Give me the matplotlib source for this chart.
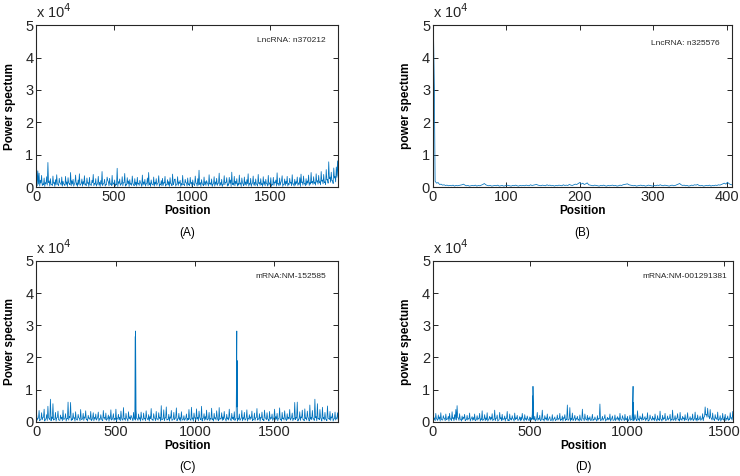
import numpy as np
import matplotlib
matplotlib.use("Agg")
import matplotlib.pyplot as plt

plt.rcParams['font.family'] = ['Liberation Sans', 'DejaVu Sans']

# power spectrum values, in units of 1e3
# each noisy panel is kept as peaks (hi) and troughs (lo) which alternate along x

# (A) LncRNA n370212, sequence length ~1936
len_a = 1936
hi_a = [6.2, 5.0, 4.3, 2.1, 3.6, 1.0, 2.8, 1.4, 3.2, 7.6, 1.9, 2.6, 0.8, 3.4, 1.5, 2.3, 3.8, 0.9, 2.7, 1.2,
        3.1, 1.8, 0.7, 3.3, 1.6, 2.9, 1.1, 4.5, 2.0, 2.4, 0.9, 3.7, 1.3, 2.2, 4.1, 0.8, 2.5, 1.7, 3.5, 1.0,
        2.8, 1.4, 3.0, 0.7, 2.1, 3.9, 1.2, 2.6, 0.9, 3.3, 1.5, 2.0, 4.8, 1.1, 2.4, 0.8, 3.1, 1.6, 2.7, 1.0,
        3.6, 1.3, 2.2, 0.9, 5.8, 1.7, 2.5, 1.0, 3.2, 1.4, 4.2, 0.8, 2.9, 1.9, 2.3, 1.1, 3.4, 0.7, 2.6, 1.5,
        3.0, 1.2, 2.1, 0.9, 3.7, 1.6, 2.4, 1.0, 2.8, 4.5, 1.3, 2.2, 0.8, 3.1, 1.5, 2.6, 1.1, 3.5, 0.9, 2.0,
        2.7, 1.4, 3.3, 0.8, 2.3, 1.7, 2.9, 1.0, 4.0, 1.2, 2.5, 0.9, 3.2, 1.6, 2.1, 1.1, 3.6, 0.8, 2.4, 1.3,
        2.8, 1.0, 3.0, 1.5, 2.2, 0.9, 3.4, 1.2, 2.6, 5.2, 1.4, 2.3, 0.8, 3.1, 1.7, 2.0, 1.0, 3.8, 1.3, 2.5,
        0.9, 3.2, 1.6, 2.7, 1.1, 4.3, 1.4, 2.4, 0.8, 3.5, 1.5, 2.9, 1.0, 3.0, 2.2, 4.6, 1.2, 3.3, 1.8, 2.6,
        1.1, 3.7, 1.3, 2.8, 0.9, 3.1, 1.6, 2.3, 4.1, 1.2, 2.7, 1.0, 3.4, 1.5, 2.5, 0.9, 3.9, 1.4, 2.6, 1.1,
        3.2, 1.7, 2.4, 1.0, 3.6, 1.3, 2.9, 0.8, 3.0, 1.6, 2.2, 4.4, 1.1, 2.8, 1.4, 3.5, 0.9, 2.5, 1.8, 3.3,
        1.2, 2.7, 1.5, 3.8, 1.0, 2.4, 1.7, 3.1, 1.3, 2.9, 4.0, 1.6, 3.4, 1.1, 2.6, 1.9, 3.7, 1.4, 4.5, 1.8,
        3.2, 1.5, 4.1, 2.0, 3.6, 1.7, 4.8, 2.2, 3.9, 1.6, 5.4, 2.4, 7.8, 3.1, 4.6, 2.0, 5.9, 3.3, 6.2, 8.1]
lo_a = [0.4, 0.9, 0.3, 1.2, 0.5, 0.7, 0.2, 1.0, 0.6, 1.4, 0.3, 0.8, 0.5, 1.1, 0.2, 0.7, 0.9, 0.4, 1.3, 0.6,
        0.3, 1.0, 0.5, 0.8, 0.2, 1.2, 0.7, 0.4, 0.9, 0.3, 1.5, 0.6, 0.2, 0.8, 0.5, 1.1, 0.3, 0.9, 0.6, 0.4,
        1.1, 0.2, 0.7, 0.5, 1.3, 0.4, 0.8, 0.3, 1.0, 0.6, 0.2, 0.9, 0.5, 1.2, 0.3, 0.7, 2.1, 0.4, 0.8, 0.5,
        0.6, 1.0, 0.3, 0.7, 0.2, 1.1, 0.5, 0.9, 0.4, 1.3, 0.3, 0.6, 1.0, 0.2, 0.8, 0.5, 1.2, 0.4, 0.7, 0.3,
        0.9, 0.5, 1.4, 0.2, 0.6, 0.8, 0.3, 1.1, 0.4, 0.7, 0.2, 1.0, 0.6, 0.3, 0.9, 0.5, 1.3, 0.2, 0.7, 0.4,
        0.5, 1.2, 0.3, 0.8, 0.6, 0.2, 1.0, 0.4, 0.7, 2.3, 0.3, 0.9, 0.5, 1.1, 0.2, 0.6, 0.8, 0.4, 1.4, 0.3,
        0.7, 0.4, 1.0, 0.2, 0.9, 0.5, 1.2, 0.3, 0.6, 0.8, 0.2, 1.1, 0.4, 0.7, 0.5, 1.3, 0.3, 0.9, 0.6, 0.2,
        1.0, 0.3, 0.8, 0.5, 1.2, 0.4, 0.6, 0.2, 0.9, 0.7, 1.4, 0.3, 0.5, 1.1, 0.2, 0.8, 0.6, 0.4, 1.0, 0.3,
        0.6, 0.9, 0.2, 1.3, 0.4, 0.7, 0.5, 1.0, 0.3, 0.8, 0.2, 1.2, 0.6, 0.4, 0.9, 0.3, 1.1, 0.5, 0.7, 0.2,
        0.8, 0.4, 1.1, 0.3, 0.6, 1.0, 0.2, 0.7, 0.5, 1.3, 0.3, 0.9, 0.4, 0.6, 2.0, 0.2, 0.8, 0.5, 1.0, 0.3,
        0.7, 1.2, 0.4, 0.9, 0.3, 0.6, 1.1, 0.5, 0.8, 0.2, 1.4, 0.6, 1.0, 0.4, 0.7, 1.2, 0.5, 0.9, 1.3, 0.8,
        1.1, 0.6, 1.5, 0.9, 1.3, 0.7, 1.8, 1.0, 1.4, 0.8, 2.2, 1.2, 2.6, 1.5, 2.0, 1.1, 2.8, 1.6, 3.0, 3.5]
spike_pos_a = [1]
spike_val_a = [50.0]

# (B) LncRNA n325576, length ~407
len_b = 407
hi_b = [1.8, 1.2, 1.4, 0.8, 0.9, 0.6, 0.7, 0.5, 0.6, 0.4, 0.5, 0.4, 0.6, 0.3, 0.5, 0.4, 0.5, 0.6, 0.7, 0.9,
        0.6, 0.4, 0.5, 0.3, 0.4, 0.5, 0.4, 0.6, 0.3, 0.5, 0.4, 0.6, 0.8, 1.1, 0.7, 0.5, 0.4, 0.5, 0.3, 0.4,
        0.5, 0.4, 0.6, 0.3, 0.4, 0.5, 0.3, 0.4, 0.6, 0.5, 0.4, 0.3, 0.5, 0.4, 0.6, 0.4, 0.3, 0.5, 0.4, 0.5,
        0.4, 0.6, 0.5, 0.4, 0.7, 0.5, 0.6, 0.7, 0.8, 0.6, 0.5, 0.4, 0.6, 0.5, 0.4, 0.7, 0.5, 0.6, 0.4, 0.5,
        0.3, 0.5, 0.4, 0.6, 0.5, 0.4, 0.7, 0.5, 0.6, 0.5, 0.8, 0.6, 0.5, 0.7, 0.9, 0.8, 1.1, 1.4, 0.9, 1.2,
        0.8, 1.0, 1.3, 0.7, 0.6, 0.5, 0.4, 0.6, 0.5, 0.4, 0.3, 0.5, 0.4, 0.6, 0.4, 0.3, 0.5, 0.4, 0.5, 0.6,
        0.4, 0.5, 0.3, 0.4, 0.6, 0.5, 0.7, 0.8, 0.9, 1.0, 0.7, 0.6, 0.5, 0.4, 0.5, 0.3, 0.4, 0.5, 0.6, 0.4,
        0.5, 0.3, 0.4, 0.6, 0.5, 0.4, 0.3, 0.5, 0.4, 0.6, 0.5, 0.7, 0.5, 0.4, 0.6, 0.5, 0.4, 0.3, 0.5, 0.6,
        0.4, 0.5, 0.7, 0.9, 1.1, 0.7, 0.5, 0.6, 0.4, 0.5, 0.3, 0.4, 0.6, 0.5, 0.7, 0.6, 0.8, 0.5, 0.4, 0.5,
        0.3, 0.4, 0.5, 0.4, 0.6, 0.3, 0.5, 0.4, 0.6, 0.5, 0.7, 0.6, 0.8, 1.0, 1.2, 0.9, 1.5, 1.1, 0.8, 0.7]
lo_b = []
spike_pos_b = [1, 2]
spike_val_b = [45.0, 30.5]

# (C) mRNA NM-152585, length ~1903
len_c = 1903
hi_c = [2.4, 1.1, 3.5, 0.6, 2.8, 1.3, 3.9, 0.8, 2.2, 4.8, 1.0, 7.0, 1.5, 5.6, 0.7, 2.9, 1.2, 3.3, 0.5, 2.1,
        1.4, 3.6, 0.8, 2.5, 1.0, 6.1, 1.7, 6.0, 0.9, 2.7, 1.3, 3.1, 0.6, 2.3, 1.1, 3.8, 0.7, 2.6, 1.5, 3.4,
        0.8, 2.0, 1.2, 3.2, 0.6, 2.8, 1.4, 2.4, 0.9, 3.0, 1.0, 2.2, 0.5, 3.5, 1.3, 2.7, 0.8, 2.1, 1.6, 3.7,
        0.7, 2.5, 1.1, 3.9, 0.9, 2.3, 1.4, 3.3, 0.6, 4.4, 1.0, 2.6, 0.8, 3.1, 1.5, 2.0, 0.7, 2.9, 1.2, 3.6,
        0.9, 2.4, 1.3, 3.0, 0.6, 2.7, 1.1, 3.4, 0.8, 2.2, 1.6, 4.1, 0.7, 2.5, 1.0, 3.2, 0.9, 2.8, 1.4, 5.0,
        0.8, 3.7, 1.2, 4.6, 0.7, 2.3, 1.5, 3.5, 0.6, 2.9, 1.0, 4.3, 0.9, 2.6, 1.3, 3.1, 0.5, 1.9, 0.8, 2.4,
        1.1, 3.8, 0.7, 4.5, 1.2, 2.7, 0.9, 4.0, 1.4, 3.3, 0.8, 4.8, 1.0, 2.5, 1.6, 3.6, 0.7, 2.9, 1.1, 4.2,
        0.9, 2.6, 1.3, 3.4, 0.6, 4.4, 1.0, 2.8, 1.5, 3.2, 0.8, 2.3, 1.2, 3.9, 0.7, 2.6, 1.4, 3.1, 0.9, 4.6,
        1.1, 2.4, 0.8, 3.5, 1.3, 2.9, 0.6, 3.7, 1.0, 2.2, 1.5, 3.3, 0.7, 2.7, 1.2, 4.1, 0.9, 2.5, 1.4, 3.0,
        0.8, 3.6, 1.1, 2.8, 0.7, 3.2, 1.3, 2.4, 0.9, 3.9, 1.6, 2.6, 1.0, 4.3, 0.8, 2.9, 1.2, 3.4, 0.6, 2.5,
        1.4, 3.8, 0.9, 2.7, 1.1, 6.0, 1.3, 6.1, 0.8, 3.1, 1.5, 3.6, 0.7, 4.0, 1.2, 3.3, 1.0, 5.2, 1.4, 3.5,
        0.9, 7.0, 1.6, 5.6, 1.1, 3.8, 0.8, 4.5, 1.3, 2.9, 0.7, 4.9, 1.0, 3.2, 1.5, 2.6, 0.9, 3.0, 1.2, 2.8]
lo_c = [0.5, 1.1, 0.3, 0.8, 0.6, 1.4, 0.2, 0.9, 0.4, 1.2, 0.7, 0.3, 1.0, 0.5, 0.8, 0.2, 1.3, 0.6, 0.4, 0.9,
        0.3, 0.7, 1.1, 0.2, 0.9, 0.5, 1.3, 0.4, 0.6, 1.0, 0.2, 0.8, 0.5, 1.2, 0.3, 0.7, 0.9, 0.4, 1.1, 0.6,
        0.2, 1.0, 0.6, 0.4, 1.2, 0.3, 0.8, 0.5, 1.4, 0.2, 0.7, 0.9, 0.3, 1.1, 0.6, 0.4, 1.0, 0.2, 0.8, 0.5,
        1.3, 0.4, 0.7, 0.2, 1.0, 0.6, 0.3, 1.2, 0.5, 0.8, 0.4, 1.1, 0.2, 0.9, 0.6, 1.4, 0.3, 0.7, 0.5, 1.0,
        0.4, 0.8, 0.2, 1.1, 0.5, 0.9, 0.3, 1.3, 0.6, 0.2, 1.0, 0.7, 0.4, 1.2, 0.3, 0.8, 0.5, 1.0, 0.2, 0.6,
        0.9, 0.3, 1.2, 0.5, 0.7, 0.2, 1.1, 0.4, 0.8, 0.6, 1.3, 0.3, 0.9, 0.5, 0.2, 1.0, 0.7, 0.4, 1.2, 0.3,
        0.6, 1.0, 0.4, 0.8, 0.2, 1.2, 0.5, 0.9, 0.3, 1.4, 0.6, 0.2, 1.1, 0.4, 0.7, 0.5, 1.0, 0.3, 0.8, 0.6,
        0.2, 0.9, 0.5, 1.3, 0.3, 0.7, 1.0, 0.4, 0.6, 1.1, 0.2, 0.8, 0.5, 1.2, 0.3, 0.9, 0.6, 0.4, 1.0, 0.2,
        0.7, 0.4, 1.1, 0.3, 0.8, 0.5, 1.2, 0.2, 0.9, 0.6, 1.0, 0.3, 0.7, 0.4, 1.3, 0.5, 0.8, 0.2, 1.1, 0.6,
        0.3, 1.2, 0.6, 0.9, 0.2, 0.7, 1.0, 0.4, 1.4, 0.5, 0.8, 0.3, 1.1, 0.6, 0.2, 0.9, 0.5, 1.2, 0.4, 0.7,
        1.0, 0.5, 1.3, 0.3, 0.8, 0.6, 1.1, 0.2, 0.9, 0.4, 1.2, 0.7, 0.3, 1.0, 0.5, 1.4, 0.2, 0.8, 0.6, 1.1,
        0.4, 1.2, 0.3, 0.9, 0.6, 1.3, 0.2, 1.0, 0.5, 0.8, 0.3, 1.1, 0.7, 0.4, 1.2, 0.2, 0.9, 0.5, 1.0, 0.6]
spike_pos_c = [1, 624, 626, 1264, 1266]
spike_val_c = [50.0, 26.5, 28.2, 28.2, 19.0]

# (D) mRNA NM-001291381, length ~1546
len_d = 1546
hi_d = [2.9, 1.2, 2.6, 0.7, 2.1, 1.5, 2.8, 0.6, 1.9, 1.1, 2.4, 0.8, 1.7, 2.6, 0.9, 3.1, 1.3, 2.2, 3.8, 5.0,
        1.2, 2.5, 0.7, 1.8, 1.4, 2.3, 0.6, 2.0, 1.0, 2.7, 0.8, 1.6, 1.3, 2.4, 0.5, 1.9, 1.1, 2.6, 0.9, 3.4,
        0.7, 2.2, 1.2, 2.8, 0.6, 1.7, 1.4, 2.5, 0.8, 3.6, 1.0, 2.1, 0.5, 2.9, 1.3, 2.3, 0.9, 1.8, 1.1, 3.2,
        0.6, 2.4, 1.0, 1.9, 0.8, 2.7, 1.2, 2.0, 0.5, 1.6, 1.4, 2.6, 0.7, 2.2, 1.0, 1.8, 0.6, 1.5, 1.1, 2.3,
        0.9, 1.7, 0.6, 2.9, 1.1, 2.0, 0.5, 3.6, 0.8, 1.9, 1.2, 2.4, 0.7, 1.6, 0.4, 2.2, 0.9, 1.5, 0.6, 2.1,
        1.0, 2.6, 0.7, 1.8, 1.3, 2.2, 0.8, 5.2, 0.5, 4.4, 1.1, 2.7, 0.6, 2.0, 1.0, 1.7, 0.8, 2.1, 0.5, 3.9,
        0.9, 2.4, 0.7, 2.0, 1.2, 1.6, 0.4, 2.3, 0.8, 1.5, 0.6, 1.9, 1.0, 5.5, 0.5, 1.7, 0.9, 2.2, 0.6, 1.4,
        1.1, 2.4, 0.7, 1.8, 0.5, 2.1, 0.9, 1.6, 1.2, 2.6, 0.6, 1.9, 0.8, 2.3, 1.0, 1.7, 0.5, 2.0, 0.7, 3.0,
        1.3, 2.2, 0.6, 3.4, 0.9, 1.8, 1.2, 2.5, 0.7, 1.6, 1.0, 2.8, 0.5, 2.1, 0.8, 1.7, 1.1, 2.4, 0.6, 1.9,
        0.9, 3.3, 0.7, 2.0, 1.2, 2.6, 0.5, 1.8, 1.0, 2.3, 0.8, 3.6, 0.6, 1.9, 1.1, 2.5, 0.7, 2.9, 0.9, 1.7,
        1.2, 2.2, 0.6, 2.8, 0.8, 1.6, 1.0, 2.4, 0.7, 3.0, 1.1, 2.1, 0.6, 1.8, 0.9, 2.5, 1.4, 4.6, 2.3, 4.2,
        1.6, 3.8, 1.0, 2.7, 0.8, 2.2, 1.2, 3.0, 0.6, 1.9, 1.0, 2.6, 0.7, 2.3, 1.1, 1.8, 0.9, 2.8, 1.3, 3.2]
lo_d = [0.6, 0.3, 1.0, 0.4, 0.8, 0.2, 0.7, 0.5, 1.1, 0.3, 0.6, 0.9, 0.2, 0.8, 0.4, 1.0, 0.3, 0.7, 0.5, 1.2,
        0.4, 0.8, 0.2, 0.6, 1.0, 0.3, 0.7, 0.5, 0.9, 0.2, 1.1, 0.4, 0.6, 0.3, 0.8, 0.5, 1.0, 0.2, 0.7, 0.4,
        0.9, 0.3, 0.6, 0.2, 1.0, 0.5, 0.8, 0.3, 0.7, 0.4, 1.1, 0.2, 0.6, 0.9, 0.3, 0.5, 0.8, 0.2, 1.0, 0.4,
        0.3, 0.7, 0.5, 1.0, 0.2, 0.6, 0.9, 0.4, 0.8, 0.3, 0.5, 1.1, 0.2, 0.7, 0.4, 0.9, 0.3, 0.6, 0.5, 0.8,
        0.5, 0.2, 0.9, 0.4, 0.7, 0.3, 1.0, 0.6, 0.2, 0.8, 0.5, 0.3, 1.1, 0.4, 0.6, 0.2, 0.9, 0.3, 0.7, 0.5,
        0.8, 0.4, 0.6, 0.2, 1.0, 0.3, 0.7, 0.5, 0.9, 0.2, 0.6, 0.4, 1.2, 0.3, 0.8, 0.5, 0.2, 0.7, 0.4, 1.0,
        0.3, 0.9, 0.5, 0.2, 0.7, 0.4, 1.0, 0.3, 0.6, 0.8, 0.2, 0.5, 0.9, 0.3, 0.7, 0.4, 1.1, 0.2, 0.6, 0.5,
        0.7, 0.2, 1.0, 0.4, 0.6, 0.3, 0.9, 0.5, 0.2, 0.8, 0.4, 1.1, 0.3, 0.6, 0.5, 0.2, 0.9, 0.4, 0.7, 0.3,
        0.5, 1.0, 0.3, 0.7, 0.2, 0.9, 0.4, 0.6, 1.1, 0.3, 0.8, 0.2, 0.5, 1.0, 0.4, 0.7, 0.3, 0.9, 0.2, 0.6,
        0.4, 0.8, 0.2, 0.6, 0.9, 0.3, 0.7, 0.5, 1.0, 0.2, 0.6, 0.4, 0.8, 0.3, 1.1, 0.5, 0.2, 0.7, 0.4, 0.9,
        0.3, 0.6, 1.0, 0.2, 0.8, 0.4, 0.7, 0.3, 0.9, 0.5, 0.2, 0.6, 1.0, 0.4, 0.8, 0.3, 1.6, 2.1, 1.4, 1.8,
        0.9, 1.3, 0.5, 0.8, 0.3, 1.0, 0.6, 0.4, 0.9, 0.2, 0.7, 0.5, 1.1, 0.3, 0.8, 0.4, 0.6, 1.0, 0.5, 0.9]
spike_pos_d = [1, 513, 515, 1030, 1032]
spike_val_d = [50.0, 8.0, 11.0, 11.0, 6.0]

panels = [
    (len_a, hi_a, lo_a, spike_pos_a, spike_val_a, 'Power spectum', 'LncRNA: n370212', '(A)', [0, 500, 1000, 1500]),
    (len_b, hi_b, lo_b, spike_pos_b, spike_val_b, 'power spectum', 'LncRNA: n325576', '(B)', [0, 100, 200, 300, 400]),
    (len_c, hi_c, lo_c, spike_pos_c, spike_val_c, 'Power spectum', 'mRNA:NM-152585', '(C)', [0, 500, 1000, 1500]),
    (len_d, hi_d, lo_d, spike_pos_d, spike_val_d, 'power spectum', 'mRNA:NM-001291381', '(D)', [0, 500, 1000, 1500]),
]

# axes boxes in figure fractions [left, bottom, width, height]
boxes = [
    [0.049, 0.607, 0.408, 0.340],
    [0.585, 0.607, 0.404, 0.340],
    [0.049, 0.114, 0.408, 0.338],
    [0.585, 0.114, 0.406, 0.338],
]
note_x = [0.96, 0.96, 0.96, 0.98]
note_y = [0.905, 0.89, 0.90, 0.90]

matlab_blue = '#0072BD'

fig = plt.figure(figsize=(7.4, 4.76), dpi=100)

for k, (n, hi, lo, sp_pos, sp_val, ylab, note, tag, xt) in enumerate(panels):
    ax = fig.add_axes(boxes[k])
    # alternate peaks and troughs
    if lo:
        vals = np.column_stack([hi, lo]).ravel()
    else:
        vals = np.array(hi)
    start = sp_pos[-1] + 1 if n < 1000 else 2
    x = np.linspace(start, n, len(vals))
    # merge the hand read spikes into the sampled series
    x_all = np.concatenate([x, np.array(sp_pos, dtype=float)])
    y_all = np.concatenate([vals, np.array(sp_val)]) * 1e3
    order = np.argsort(x_all, kind='stable')
    ax.plot(x_all[order], y_all[order], color=matlab_blue, lw=0.55)

    ax.set_xlim(0, n)
    ax.set_ylim(0, 5e4)
    ax.set_xticks(xt)
    ax.set_yticks([0, 1e4, 2e4, 3e4, 4e4, 5e4])
    ax.set_yticklabels(['0', '1', '2', '3', '4', '5'])
    ax.tick_params(direction='in', top=True, right=True, length=3.5, width=0.7,
                   labelsize=10.5, pad=2, colors='#262626')
    for s in ax.spines.values():
        s.set_linewidth(0.8)
        s.set_color('#262626')

    ax.text(0.0, 1.025, r'x 10$^4$', transform=ax.transAxes, fontsize=10.5,
            ha='left', va='bottom', color='#262626')
    ax.text(note_x[k], note_y[k], note, transform=ax.transAxes, fontsize=6,
            ha='right', va='center', color='#262626')
    ax.set_ylabel(ylab, fontsize=8.5, fontweight='bold', labelpad=7)
    ax.set_xlabel('Position', fontsize=8.5, fontweight='bold', labelpad=1)
    ax.text(0.5, -0.283, tag, transform=ax.transAxes, fontsize=8.5,
            ha='center', va='center')

fig.savefig('out.png', dpi=100)
